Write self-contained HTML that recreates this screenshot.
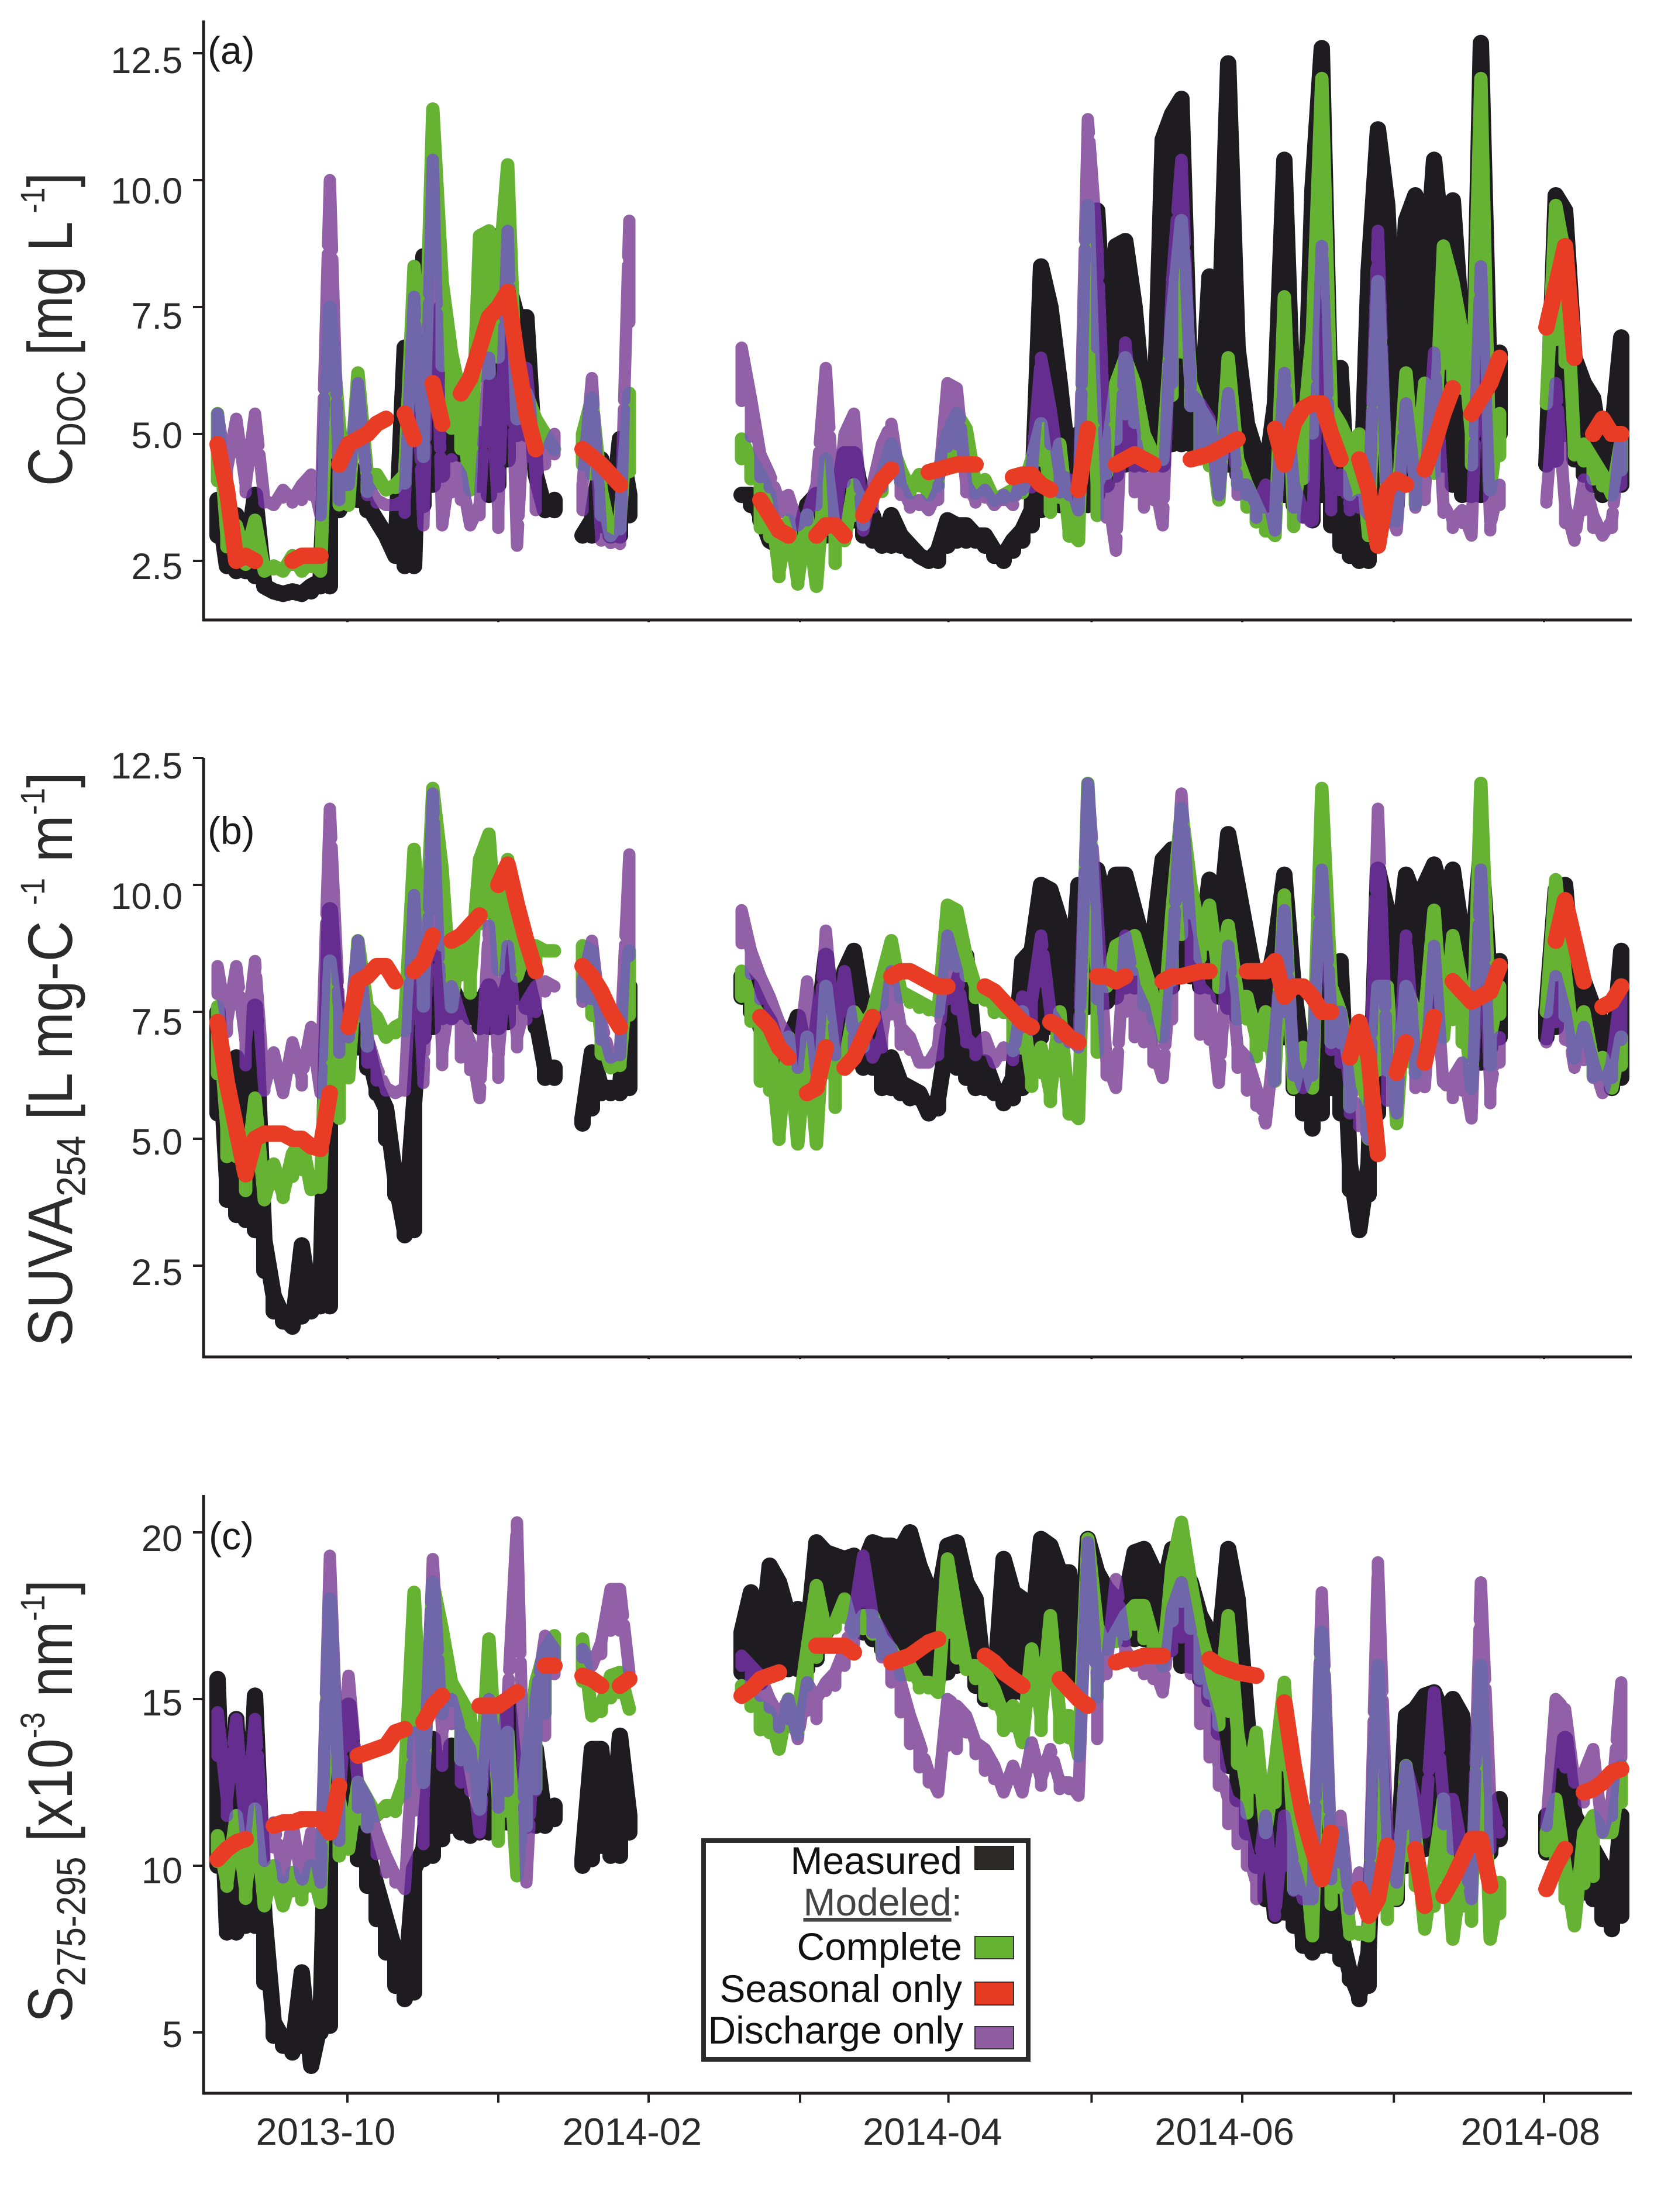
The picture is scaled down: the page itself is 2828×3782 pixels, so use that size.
<!DOCTYPE html>
<html lang="en">
<head>
<meta charset="utf-8">
<title>Modeled and measured DOC, SUVA254 and spectral slope</title>
<style>
html,body{margin:0;padding:0;background:#fff;}
svg{display:block;font-family:"Liberation Sans",sans-serif;}
</style>
</head>
<body>
<svg id="chart" xmlns="http://www.w3.org/2000/svg" width="2828" height="3782" viewBox="0 0 2828 3782">
<rect x="0" y="0" width="2828" height="3782" fill="#ffffff"/>
<g id="plots"></g>

<text class="ytitle" data-target="536" transform="translate(123,831) rotate(-90)" font-size="96" fill="#2b2b2b">C<tspan dy="20" font-size="62">DOC</tspan><tspan dy="-20"> [mg L</tspan><tspan dy="-42" font-size="52"> -1</tspan><tspan dy="42">]</tspan></text>
<text class="ytitle" data-target="982" transform="translate(123,2302) rotate(-90)" font-size="96" fill="#2b2b2b">SUVA<tspan dy="20" font-size="62">254</tspan><tspan dy="-20"> [L mg-C </tspan><tspan dy="-42" font-size="52">-1</tspan><tspan dy="42"> m</tspan><tspan dy="-42" font-size="52">-1</tspan><tspan dy="42">]</tspan></text>
<text class="ytitle" data-target="757" transform="translate(123,3458) rotate(-90)" font-size="96" fill="#2b2b2b">S<tspan dy="20" font-size="62">275-295</tspan><tspan dy="-20"> [x10</tspan><tspan dy="-42" font-size="52">-3</tspan><tspan dy="42"> nm</tspan><tspan dy="-42" font-size="52">-1</tspan><tspan dy="42">]</tspan></text>

<text x="355" y="109" font-size="66" fill="#1a1a1a">(a)</text>
<text x="355" y="1443" font-size="66" fill="#1a1a1a">(b)</text>
<text x="357" y="2649" font-size="66" fill="#1a1a1a">(c)</text>

<g>
<rect x="1203" y="3147" width="555" height="374" fill="#ffffff" stroke="#2b2b2b" stroke-width="8"/>
<text x="1645" y="3204" font-size="66" text-anchor="end" fill="#111">Measured</text>
<text x="1645" y="3275" font-size="66" text-anchor="end" fill="#444"><tspan text-decoration="underline">Modeled</tspan>:</text>
<text x="1645" y="3351" font-size="66" text-anchor="end" fill="#111">Complete</text>
<text x="1645" y="3423" font-size="66" text-anchor="end" fill="#111">Seasonal only</text>
<text x="1647" y="3494" font-size="66" text-anchor="end" fill="#111">Discharge only</text>
<rect x="1667" y="3157" width="66" height="39" fill="#2b2a29" stroke="#222" stroke-width="2"/>
<rect x="1667" y="3311" width="66" height="38" fill="#66b334" stroke="#333" stroke-width="2"/>
<rect x="1667" y="3389" width="66" height="39" fill="#e63c23" stroke="#333" stroke-width="2"/>
<rect x="1667" y="3465" width="66" height="38" fill="#8f5ca1" stroke="#333" stroke-width="2"/>
</g>
</svg>

<script>
// Sample grid: one sample per time step; null marks gaps in the record.
const docMeasured=[
3.7,2.4,3.4,2.5,3.8,2.0,1.9,1.85,1.9,1.85,
2.0,2.1,6.6,4.2,4.5,4.0,3.6,3.3,3.0,2.6,
6.7,2.4,8.5,5.0,7.5,5.0,4.9,4.9,5.0,4.8,
8.9,8.0,7.3,7.3,4.2,3.5,3.7,
null,null,
3.0,3.3,4.5,3.1,4.9,3.8,
null,null,null,null,null,null,null,null,null,null,null,
3.8,3.8,3.4,2.9,2.8,3.0,2.8,3.6,3.8,3.7,
3.4,4.6,4.6,3.6,3.4,2.8,3.4,3.0,2.8,2.6,
2.5,2.7,3.3,3.2,3.2,3.0,3.0,2.7,2.6,2.9,
3.1,3.5,8.3,7.5,6.0,4.3,5.0,4.0,9.4,6.0,
8.7,8.8,7.5,5.5,4.6,10.8,11.3,11.6,5.5,4.9,
8.1,6.6,12.3,6.7,5.2,4.6,4.2,5.6,10.4,5.0,
4.0,9.8,12.6,5.0,6.3,3.0,2.6,8.2,11.0,9.5,
5.5,9.2,9.7,7.8,10.4,8.5,9.6,7.0,4.0,12.7,
5.5,6.6,
null,null,null,null,
4.4,9.7,9.4,6.5,6.0,5.7,4.5,5.0,6.9];
// Lower edge of the daily cycle in the measured record
const docMeasuredLow=[
3.0,2.4,2.3,2.3,2.2,2.0,1.9,1.9,1.9,1.9,
1.9,2.0,2.0,3.5,3.7,3.7,3.5,3.3,3.0,2.6,
2.4,2.4,3.6,4.0,4.2,4.6,4.6,4.4,4.0,3.8,
4.0,4.5,5.0,5.0,4.2,3.5,3.5,
null,null,
3.0,3.0,3.2,3.0,3.0,3.4,
null,null,null,null,null,null,null,null,null,null,null,
3.8,3.6,3.3,2.9,2.8,2.7,2.8,2.9,2.9,3.0,
3.2,3.4,3.3,3.0,2.9,2.8,2.8,2.8,2.7,2.6,
2.5,2.5,2.8,2.9,2.9,2.9,2.8,2.6,2.5,2.7,
2.9,3.2,3.5,3.6,3.6,3.4,3.6,3.6,3.8,4.0,
4.2,4.4,4.4,4.4,4.4,4.4,4.8,4.8,4.8,4.8,
4.5,4.5,4.4,4.2,4.0,3.8,3.6,3.8,3.8,3.6,
3.4,3.3,3.8,3.2,2.8,2.6,2.5,2.5,3.2,3.6,
3.6,4.2,4.5,4.6,4.6,4.4,4.0,3.8,3.8,3.8,
4.5,5.0,
null,null,null,null,
4.4,4.5,5.0,4.5,4.2,4.0,3.8,4.0,4.0];
const docComplete=[
5.4,3.0,3.2,2.6,3.3,2.3,2.4,2.3,2.6,2.3,
2.5,2.3,7.5,5.2,3.6,6.2,4.2,4.2,3.9,4.0,
4.2,8.3,5.0,11.4,8.0,6.6,5.7,3.9,8.9,9.0,
8.0,10.3,5.3,5.8,5.3,5.0,4.7,
null,null,
5.0,5.7,3.9,3.0,3.3,5.8,
null,null,null,null,null,null,null,null,null,null,null,
4.9,4.5,4.2,3.8,2.3,3.3,2.1,3.4,2.0,4.5,
3.0,2.9,4.0,3.6,3.8,4.2,4.8,4.3,3.9,4.2,
3.8,4.2,5.0,5.4,5.1,4.0,4.1,3.7,3.8,3.9,
3.9,4.5,5.2,3.9,4.8,3.1,2.9,9.5,4.0,4.5,
6.0,6.5,6.0,5.0,4.6,4.5,7.3,9.2,6.0,5.5,
5.2,3.7,6.5,4.5,4.0,3.6,3.2,3.0,7.7,3.4,
5.0,7.0,12.0,5.5,5.2,4.8,5.0,3.0,8.0,3.6,
3.3,6.2,4.0,6.0,4.5,8.7,8.0,7.0,5.0,12.0,
3.9,5.4,
null,null,null,null,
5.6,9.5,8.5,4.7,4.8,4.5,4.2,3.8,4.9];
const docDischarge=[
5.4,4.3,5.3,4.0,5.4,3.7,3.6,3.9,3.7,4.0,
4.2,3.4,10.0,4.0,4.0,6.0,4.0,3.7,3.6,3.6,
3.7,7.7,3.2,10.4,3.2,4.5,4.2,3.2,3.6,6.5,
3.5,9.0,2.8,6.3,4.2,4.6,5.0,
null,null,
4.0,6.1,3.0,2.9,2.8,9.2,
null,null,null,null,null,null,null,null,null,null,null,
6.7,5.7,4.6,4.2,3.7,3.8,3.2,3.4,4.0,6.3,
3.2,5.0,5.4,3.1,4.0,4.8,5.2,4.0,3.6,3.7,
3.5,3.9,6.0,5.9,4.0,3.7,3.9,3.6,3.8,3.6,
4.2,4.3,6.5,5.5,4.2,4.1,3.5,11.2,8.7,4.0,
2.7,6.8,5.0,3.9,4.2,3.2,8.0,10.4,5.8,5.6,
5.3,3.8,5.8,4.0,4.0,3.6,4.0,3.1,6.2,4.0,
3.5,3.2,8.7,3.8,4.2,3.6,3.7,3.4,9.0,3.6,
3.1,5.6,4.0,3.8,6.6,3.6,3.3,3.5,3.0,8.3,
3.2,4.0,
null,null,null,null,
3.7,6.0,3.6,2.9,4.1,3.4,3.0,3.3,5.0];
const docSeasonal=[
4.8,3.9,2.5,2.6,2.5,null,null,null,2.5,2.6,
2.6,2.6,null,4.4,4.8,4.9,5.0,5.2,5.3,null,
5.4,4.9,null,6.0,5.2,null,5.8,6.1,6.7,7.3,
7.5,7.8,6.5,5.4,4.7,null,null,
null,null,
4.7,4.55,4.4,4.2,4.0,null,
null,null,null,null,null,null,null,null,null,null,null,
null,null,3.7,3.4,3.1,3.0,null,null,3.0,3.2,
3.2,3.0,null,3.4,3.8,4.1,4.3,null,null,null,
4.25,4.3,4.35,4.4,4.4,4.4,null,null,null,4.15,
4.2,4.2,4.0,3.9,null,null,3.9,5.1,null,null,
4.4,4.5,4.6,4.5,4.4,null,null,null,4.5,4.55,
4.6,4.7,4.8,4.9,null,null,null,5.1,4.4,5.2,
5.5,5.6,5.6,5.0,4.5,null,4.5,3.9,2.8,3.9,
4.1,4.0,null,4.3,4.8,5.4,5.9,null,5.4,5.7,
6.0,6.5,
null,null,null,null,
7.1,7.9,8.7,6.5,null,5.0,5.3,5.0,5.0];

const suvaMeasured=[
7.5,4.2,6.6,3.45,7.6,3.0,1.9,1.5,1.3,2.9,
1.7,2.0,9.5,6.8,7.0,8.0,6.8,6.0,5.6,4.2,
3.2,5.7,8.5,9.0,8.0,8.0,7.6,7.8,7.6,8.0,
7.5,8.0,9.0,8.2,7.4,6.4,6.4,
null,null,
5.4,6.7,6.0,6.0,6.0,8.0,
null,null,null,null,null,null,null,null,null,null,null,
8.2,8.0,7.6,7.3,6.7,6.9,7.4,6.5,7.0,8.6,
7.0,8.3,8.7,7.6,7.5,6.5,6.6,6.1,6.0,5.9,
5.5,5.8,7.0,8.0,8.6,6.5,6.5,6.0,5.8,6.2,
8.5,8.7,10.0,9.9,9.3,7.5,10.0,8.0,10.3,9.5,
10.2,10.2,9.5,8.8,9.0,10.5,10.7,9.5,9.5,8.6,
10.1,9.0,11.0,10.0,9.0,8.0,7.9,8.8,10.2,8.0,
6.5,5.5,9.0,8.0,8.5,4.5,3.2,4.5,10.3,9.5,
8.5,10.2,9.7,10.0,10.4,9.7,10.3,9.0,8.4,10.7,
8.0,8.5,
null,null,null,null,
7.5,9.9,10.0,7.8,8.1,7.6,7.3,6.5,8.7];
const suvaMeasuredLow=[
5.5,3.8,3.5,3.4,3.2,2.4,1.6,1.4,1.3,1.5,
1.6,1.7,1.7,6.5,6.6,6.8,6.4,5.9,5.0,3.9,
3.1,3.2,7.0,7.2,7.4,7.4,7.5,7.4,7.2,7.2,
7.2,7.3,7.8,7.6,7.2,6.2,6.2,
null,null,
5.3,5.6,5.9,5.9,5.9,6.0,
null,null,null,null,null,null,null,null,null,null,null,
7.8,7.5,7.2,6.9,6.5,6.4,6.4,6.4,6.5,6.6,
6.6,6.8,6.6,6.4,6.4,6.0,6.0,5.9,5.8,5.8,
5.5,5.6,6.5,6.4,6.2,6.0,6.0,5.9,5.7,5.8,
6.0,6.5,7.0,7.2,7.0,7.0,7.5,7.6,7.6,7.7,
7.8,8.0,8.0,8.0,8.0,7.8,8.0,8.2,8.2,8.0,
8.0,7.8,7.6,7.4,7.4,7.4,7.2,7.4,7.0,6.0,
5.5,5.2,5.5,6.0,5.5,4.0,3.2,3.9,5.5,6.5,
7.0,7.0,7.0,7.5,7.5,7.5,7.5,7.5,7.0,6.5,
6.8,7.0,
null,null,null,null,
7.0,7.2,7.5,7.4,7.4,7.0,6.5,6.0,6.2];
const suvaComplete=[
7.6,5.2,5.2,4.2,5.8,3.8,4.5,3.9,4.7,5.0,
4.0,4.1,8.5,7.0,6.2,8.9,7.6,7.4,7.0,7.2,
7.3,10.7,8.0,11.9,10.3,7.6,9.0,8.2,10.5,11.0,
8.5,10.5,8.2,8.8,8.8,8.7,8.7,
null,null,
8.8,8.7,7.0,6.4,6.5,8.7,
null,null,null,null,null,null,null,null,null,null,null,
8.3,7.7,7.4,7.0,5.1,7.0,4.9,7.0,4.9,8.0,
6.5,6.5,7.5,7.2,7.5,8.2,8.9,7.9,7.8,7.7,
7.6,7.5,9.6,9.5,8.6,8.0,7.9,7.6,7.6,7.4,
7.5,6.2,6.8,5.9,7.5,5.6,5.4,12.0,8.3,8.0,
8.8,8.9,9.0,8.4,7.8,7.0,9.5,11.5,10.0,9.0,
9.6,8.2,9.2,7.8,7.8,7.0,7.5,6.3,9.8,6.0,
6.8,6.0,11.9,8.0,7.5,6.4,7.3,5.0,8.0,8.0,
5.3,8.0,7.5,7.4,9.5,7.0,9.0,8.0,6.0,12.0,
7.0,8.0,
null,null,null,null,
7.5,10.1,8.3,6.7,7.5,6.5,6.6,6.0,7.0];
const suvaDischarge=[
8.4,7.3,8.4,6.9,8.5,6.0,6.7,5.9,6.9,6.2,
7.2,5.9,11.5,7.5,7.0,8.9,7.0,6.4,6.0,5.9,
6.0,9.8,6.2,11.8,6.7,8.0,7.4,6.9,5.8,9.2,
6.6,8.8,7.0,7.7,8.0,8.1,8.0,
null,null,
8.1,8.9,7.3,6.6,6.7,10.6,
null,null,null,null,null,null,null,null,null,null,null,
9.5,8.7,8.2,7.8,7.3,7.0,6.5,8.1,6.3,9.1,
7.0,8.3,7.0,7.2,6.6,7.0,8.3,7.2,7.0,6.5,
6.5,6.8,9.0,8.3,7.0,6.8,7.0,6.5,6.8,6.6,
7.8,7.7,9.0,7.5,7.2,7.0,6.8,12.0,9.5,6.5,
6.0,9.0,8.0,7.6,6.8,6.2,8.5,11.8,9.0,8.0,
7.8,6.1,8.8,6.8,6.6,6.0,5.3,7.0,9.5,6.5,
6.0,6.5,10.3,7.5,7.5,6.0,5.5,5.0,11.5,6.5,
5.5,9.0,6.5,6.0,8.8,6.0,6.2,6.5,5.4,10.3,
6.0,7.0,
null,null,null,null,
6.9,8.2,7.5,6.4,7.2,6.5,5.9,6.5,8.0];
const suvaSeasonal=[
7.3,6.1,5.2,4.3,5.0,5.1,5.1,5.1,5.0,5.0,
4.85,4.8,5.9,null,7.2,8.1,8.2,8.4,8.4,8.1,
null,8.3,8.5,9.0,null,8.9,9.0,9.2,9.4,null,
10.0,10.4,9.6,8.9,8.3,null,null,
null,null,
8.4,8.2,7.9,7.5,7.2,null,
null,null,null,null,null,null,null,null,null,null,null,
null,null,7.4,7.2,6.8,6.6,null,5.9,6.0,6.8,
null,6.4,6.6,7.0,7.4,null,8.2,8.3,8.3,8.2,
8.1,8.0,8.0,null,null,null,8.0,7.9,7.7,7.5,
7.3,7.2,null,7.3,7.2,7.0,6.9,null,8.2,8.2,
8.1,8.2,null,null,null,8.1,8.2,8.2,8.25,8.3,
8.3,null,null,null,8.3,8.3,8.3,8.5,7.8,8.0,
8.0,7.8,7.5,7.5,null,6.6,7.3,6.6,4.7,null,
6.3,6.9,null,6.5,7.4,null,8.1,7.9,7.7,7.8,
7.9,8.4,
null,null,null,null,
null,8.9,9.7,8.9,8.1,null,7.6,7.7,8.0];

const slopeMeasured=[
15.6,8.1,14.4,8.8,15.1,8.5,5.3,4.8,4.5,6.8,
4.0,5.3,16.2,13.0,14.8,11.5,10.4,9.4,8.4,7.4,
6.2,9.9,10.5,13.8,11.2,13.6,12.0,11.1,11.2,13.0,
11.4,15.0,12.0,11.5,13.5,11.3,11.8,
null,null,
10.2,13.5,13.5,10.4,13.9,11.5,
null,null,null,null,null,null,null,null,null,null,null,
17.0,18.2,16.2,19.0,18.5,17.5,17.7,16.8,19.7,19.4,
19.3,19.2,19.3,19.0,19.7,19.6,19.6,19.5,20.0,19.0,
18.3,18.0,19.6,19.7,18.5,18.0,15.4,15.2,19.2,18.2,
18.0,17.0,19.8,19.6,18.8,18.8,15.0,19.8,18.8,18.3,
18.0,18.0,19.4,19.5,18.9,18.2,19.5,19.0,18.5,17.5,
17.0,16.5,19.5,18.0,14.5,11.0,12.0,8.5,14.0,11.0,
7.8,7.5,13.0,9.5,8.0,6.8,6.1,7.4,14.6,9.5,
9.5,14.5,14.7,15.1,15.2,14.5,15.0,14.5,12.0,11.0,
10.5,12.0,
null,null,null,null,
11.5,11.0,13.8,11.5,11.0,10.5,10.0,8.3,11.5];
const slopeMeasuredLow=[
10.0,8.0,8.0,8.2,8.2,6.5,4.9,4.6,4.4,4.6,
4.0,5.0,5.2,11.0,11.0,10.2,9.4,8.4,7.4,6.4,
6.0,6.2,10.2,10.3,10.8,11.2,11.0,10.9,11.0,11.0,
11.2,11.3,11.2,11.2,11.2,11.2,11.4,
null,null,
10.0,10.2,10.6,10.3,10.3,11.0,
null,null,null,null,null,null,null,null,null,null,null,
15.8,15.6,15.5,15.8,15.9,15.9,15.9,15.9,16.2,17.0,
17.4,17.5,17.4,17.0,16.8,16.5,16.5,16.2,16.0,16.0,
15.8,15.6,15.8,16.0,16.0,15.4,15.0,15.0,15.0,15.2,
15.2,15.4,15.6,15.6,15.6,15.6,15.8,16.5,16.6,16.6,
16.8,16.8,16.8,16.8,16.6,16.5,16.5,16.0,16.0,15.6,
15.0,14.0,13.0,12.0,11.0,10.0,9.0,8.6,8.6,8.2,
7.6,7.4,7.6,7.6,7.2,6.6,6.0,6.4,9.5,9.0,
9.0,10.0,10.4,10.5,10.6,10.5,10.5,10.2,10.2,10.3,
10.4,10.8,
null,null,null,null,
10.4,10.5,10.8,10.0,9.2,9.0,8.4,8.1,8.5];
const slopeComplete=[
10.9,9.5,11.5,9.3,11.7,8.8,10.0,8.8,9.8,9.2,
10.0,8.9,18.0,12.0,10.5,12.5,12.0,11.5,11.8,11.8,
12.6,18.2,12.5,18.5,17.1,15.5,15.0,14.5,11.7,16.8,
12.0,14.0,9.7,13.0,15.5,16.5,16.9,
null,null,
16.8,14.5,14.8,15.7,15.8,14.7,
null,null,null,null,null,null,null,null,null,null,null,
15.4,15.0,14.8,14.6,13.5,15.0,14.5,16.5,18.4,17.0,
17.3,18.0,17.0,17.5,17.5,16.8,16.5,16.0,16.0,15.5,
15.5,15.2,19.2,17.5,16.0,16.0,15.8,15.3,14.5,14.8,
13.7,16.5,14.5,17.5,14.5,14.5,13.3,19.8,17.2,16.5,
17.0,17.5,17.8,17.8,16.8,16.0,19.0,20.3,18.5,17.0,
16.0,14.5,17.5,14.0,12.3,14.0,11.0,13.0,15.5,11.0,
11.0,7.9,17.0,10.0,11.0,8.0,8.0,7.9,16.0,9.0,
9.0,13.0,11.0,8.1,10.0,12.0,7.8,10.0,9.0,16.0,
7.8,9.5,
null,null,null,null,
11.0,12.0,10.0,8.2,11.0,11.5,11.0,11.0,13.0];
const slopeDischarge=[
14.6,12.0,14.4,11.0,14.4,10.5,11.3,9.8,11.3,9.5,
11.0,9.5,19.3,12.0,15.7,12.5,12.0,11.0,10.3,9.7,
9.3,14.0,12.0,19.2,14.0,15.0,14.0,13.5,11.0,15.0,
12.5,15.0,20.3,9.5,15.0,16.9,16.5,
null,null,
16.5,16.0,16.7,18.3,18.3,15.8,
null,null,null,null,null,null,null,null,null,null,null,
16.3,16.0,15.7,15.0,14.5,15.0,13.8,15.5,15.0,15.5,
15.8,16.5,17.5,19.3,17.5,17.0,16.5,15.5,14.5,13.7,
12.8,12.2,15.0,14.8,14.5,13.7,13.5,13.0,12.2,13.0,
12.2,13.7,12.6,13.5,12.5,12.5,12.1,19.7,15.5,16.0,
18.6,16.5,16.0,16.3,16.0,15.2,17.7,18.5,17.0,15.5,
14.5,13.0,12.0,11.8,10.5,9.5,11.5,8.5,11.5,10.0,
9.0,9.0,18.2,10.5,11.5,8.7,9.8,8.7,19.1,11.0,
9.5,13.0,12.0,11.0,15.2,12.0,12.0,10.5,9.0,18.5,
12.0,11.0,
null,null,null,null,
11.2,15.0,14.7,12.5,12.8,13.5,11.0,12.0,15.5];
const slopeSeasonal=[
10.2,10.5,10.7,10.8,null,null,11.2,11.3,11.3,11.4,
11.4,11.4,11.0,12.4,null,13.3,13.4,13.5,13.6,14.0,
14.1,null,14.3,14.8,15.1,null,null,null,14.8,14.8,
14.8,15.0,15.2,null,null,16.0,16.0,
null,null,
15.7,15.6,15.4,null,15.4,15.6,
null,null,null,null,null,null,null,null,null,null,null,
15.1,15.3,15.6,15.7,15.8,null,null,null,16.6,16.6,
16.6,16.6,16.4,null,null,null,16.1,16.2,16.3,16.5,
16.7,16.8,null,null,null,null,16.3,16.1,15.8,15.6,
15.4,null,null,null,15.6,15.3,15.0,14.8,null,null,
16.1,16.2,16.2,16.3,16.3,16.3,null,null,null,null,
16.2,16.0,15.9,15.8,15.75,15.7,null,null,14.9,13.0,
11.5,10.5,9.6,11.0,null,null,9.3,8.5,9.0,10.6,
null,null,10.5,8.8,null,9.1,9.6,10.2,10.8,10.8,
9.4,null,
null,null,null,null,
9.3,10.0,10.5,null,12.2,12.3,12.5,12.8,12.9];

const docTicks=[12.5,10,7.5,5,2.5];
const docTickLabels=['12.5','10.0','7.5','5.0','2.5'];
const suvaTicks=[12.5,10,7.5,5,2.5];
const suvaTickLabels=['12.5','10.0','7.5','5.0','2.5'];
const slopeTicks=[20,15,10,5];
const slopeTickLabels=['20','15','10','5'];
const timeTicks=[13.875,30,46.06,62.25,78.1,93.4,109.5,125.7,141.75];
const timeLabelSteps=[11.56,44.3,76.4,107.6,140.3];
const timeLabels=['2013-10','2014-02','2014-04','2014-06','2014-08'];

// Axis functions
const SVGNS='http://www.w3.org/2000/svg';
function xAxis(step){return 372+16*step;}
function yDoc(v){return 959-(v-2.5)*86.8;}
function ySuva(v){return 2164-(v-2.5)*86.8;}
function ySlope(v){return 3475-(v-5)*57;}

const COLORS={black:'#1f1c21',green:'#66b334',red:'#e83c24',purple:'#9160a6',overBlack:'#662d91',overGreen:'#7066aa'};

function pathFrom(values,yAxis){
  let d='';let pen=false;
  values.forEach(function(v,i){
    if(v===null){pen=false;return;}
    const x=xAxis(i).toFixed(1),y=yAxis(v).toFixed(1);
    const nextMissing=i===values.length-1||values[i+1]===null;
    if(!pen){d+='M'+x+' '+y;if(nextMissing)d+='h.01';}
    else{d+='L'+x+' '+y;}
    pen=true;
  });
  return d;
}
// Vertical strokes from each value down to its low edge (the fast daily cycle).
function cycleFromLow(values,low,yAxis){
  let d='';
  values.forEach(function(v,i){
    if(v===null||low[i]===null||low[i]>=v)return;
    d+='M'+xAxis(i).toFixed(1)+' '+yAxis(v).toFixed(1)+'L'+xAxis(i).toFixed(1)+' '+yAxis(low[i]).toFixed(1);
  });
  return d;
}
// Same, reaching part of the way toward the lowest neighbouring sample.
function cycleFromNeighbours(values,reach,share,depth,yAxis){
  let d='';
  values.forEach(function(v,i){
    if(v===null)return;
    let lo=v;
    for(let k=Math.max(0,i-reach);k<=Math.min(values.length-1,i+reach);k++){
      if(values[k]!==null&&values[k]<lo)lo=values[k];
    }
    lo=Math.max(v-(v-lo)*share,v-depth);
    if(lo>=v)return;
    d+='M'+xAxis(i).toFixed(1)+' '+yAxis(v).toFixed(1)+'L'+xAxis(i).toFixed(1)+' '+yAxis(lo).toFixed(1);
  });
  return d;
}
function strokePath(parent,d,color,width,cap,dash){
  const el=document.createElementNS(SVGNS,'path');
  el.setAttribute('d',d);
  el.setAttribute('fill','none');
  el.setAttribute('stroke',color);
  el.setAttribute('stroke-width',width);
  el.setAttribute('stroke-linecap',cap);
  el.setAttribute('stroke-linejoin','round');
  if(dash)el.setAttribute('stroke-dasharray',dash);
  parent.appendChild(el);
  return el;
}
function drawPanel(key,yAxis,measured,measuredLow,complete,discharge,seasonal,depthGreen,depthPurple,ticks,tickLabels,nudges,axisTop,axisBottom,showTimeTicks){
  const root=document.getElementById('plots');
  const g=document.createElementNS(SVGNS,'g');
  
  
  root.appendChild(g);

  const dMeasured=pathFrom(measured,yAxis)+cycleFromLow(measured,measuredLow,yAxis);
  const dComplete=pathFrom(complete,yAxis)+cycleFromNeighbours(complete,2,0.55,depthGreen,yAxis);
  const dDischarge=pathFrom(discharge,yAxis)+cycleFromNeighbours(discharge,2,0.5,depthPurple,yAxis);
  const dSeasonal=pathFrom(seasonal,yAxis);

  const blackLine=strokePath(g,dMeasured,COLORS.black,28,'round');
  
  
  const greenLine=strokePath(g,dComplete,COLORS.green,23,'round');
  
  

  const maskBlack=document.createElementNS(SVGNS,'mask');
  maskBlack.setAttribute('id','mask-black-'+key);
  maskBlack.setAttribute('maskUnits','userSpaceOnUse');
  maskBlack.setAttribute('x','0');maskBlack.setAttribute('y','0');
  maskBlack.setAttribute('width','2828');maskBlack.setAttribute('height','3782');
  strokePath(maskBlack,dMeasured,'#fff',28,'round');
  g.appendChild(maskBlack);
  const maskGreen=document.createElementNS(SVGNS,'mask');
  maskGreen.setAttribute('id','mask-green-'+key);
  maskGreen.setAttribute('maskUnits','userSpaceOnUse');
  maskGreen.setAttribute('x','0');maskGreen.setAttribute('y','0');
  maskGreen.setAttribute('width','2828');maskGreen.setAttribute('height','3782');
  strokePath(maskGreen,dComplete,'#fff',23,'round');
  g.appendChild(maskGreen);

  const dash='230 16';
  const purpleLine=strokePath(g,dDischarge,COLORS.purple,21,'round',dash);
  
  
  const purpleDark=strokePath(g,dDischarge,COLORS.overBlack,21,'round',dash);
  purpleDark.setAttribute('mask','url(#mask-black-'+key+')');
  
  
  const purpleBlue=strokePath(g,dDischarge,COLORS.overGreen,21,'round',dash);
  purpleBlue.setAttribute('mask','url(#mask-green-'+key+')');
  
  

  const redLine=strokePath(g,dSeasonal,COLORS.red,28,'round');
  
  

  const yLine=document.createElementNS(SVGNS,'line');
  yLine.setAttribute('x1','348');yLine.setAttribute('x2','348');
  yLine.setAttribute('y1',axisTop);yLine.setAttribute('y2',axisBottom+2);
  yLine.setAttribute('stroke','#231f20');yLine.setAttribute('stroke-width','5');
  
  
  g.appendChild(yLine);
  const xLine=document.createElementNS(SVGNS,'line');
  xLine.setAttribute('x1','346');xLine.setAttribute('x2','2790');
  xLine.setAttribute('y1',axisBottom);xLine.setAttribute('y2',axisBottom);
  xLine.setAttribute('stroke','#231f20');xLine.setAttribute('stroke-width','5');
  
  
  g.appendChild(xLine);

  ticks.forEach(function(t,j){
    const tick=document.createElementNS(SVGNS,'line');
    tick.setAttribute('x1','330');tick.setAttribute('x2','348');
    tick.setAttribute('y1',yAxis(t));tick.setAttribute('y2',yAxis(t));
    tick.setAttribute('stroke','#231f20');tick.setAttribute('stroke-width','4');
    
    
    g.appendChild(tick);
    const label=document.createElementNS(SVGNS,'text');
    label.setAttribute('x','312');
    label.setAttribute('y',yAxis(t)+nudges[j]);
    label.setAttribute('text-anchor','end');
    label.setAttribute('font-size','63');
    label.setAttribute('fill','#2b2b2b');
    
    
    label.textContent=tickLabels[j];
    g.appendChild(label);
  });
  timeTicks.forEach(function(s){
    const tick=document.createElementNS(SVGNS,'line');
    tick.setAttribute('x1',xAxis(s));tick.setAttribute('x2',xAxis(s));
    tick.setAttribute('y1',axisBottom);tick.setAttribute('y2',axisBottom+(showTimeTicks?16:4));
    tick.setAttribute('stroke','#231f20');tick.setAttribute('stroke-width','4');
    
    
    g.appendChild(tick);
  });
  if(showTimeTicks){
    timeLabels.forEach(function(t,j){
      const label=document.createElementNS(SVGNS,'text');
      label.setAttribute('x',xAxis(timeLabelSteps[j]));
      label.setAttribute('y','3667');
      label.setAttribute('text-anchor','middle');
      label.setAttribute('font-size','65');
      label.setAttribute('fill','#2b2b2b');
      
      
      label.textContent=t;
      g.appendChild(label);
    });
  }
}
drawPanel('doc',yDoc,docMeasured,docMeasuredLow,docComplete,docDischarge,docSeasonal,3,2,docTicks,docTickLabels,[34,40,37,24,31],35,1060,false);
drawPanel('suva',ySuva,suvaMeasured,suvaMeasuredLow,suvaComplete,suvaDischarge,suvaSeasonal,3,2,suvaTicks,suvaTickLabels,[35,41,39,27,33],1296,2320,false);
drawPanel('slope',ySlope,slopeMeasured,slopeMeasuredLow,slopeComplete,slopeDischarge,slopeSeasonal,5,3,slopeTicks,slopeTickLabels,[32,28,30,25],2556,3579,true);

// Fit the rotated titles to their length in the figure
document.querySelectorAll('.ytitle').forEach(function(t){
  const len=t.getComputedTextLength();
  const target=parseFloat(t.getAttribute('data-target'));
  t.setAttribute('transform',t.getAttribute('transform')+' scale('+(target/len)+',1.12)');
});
</script>
</body>
</html>
